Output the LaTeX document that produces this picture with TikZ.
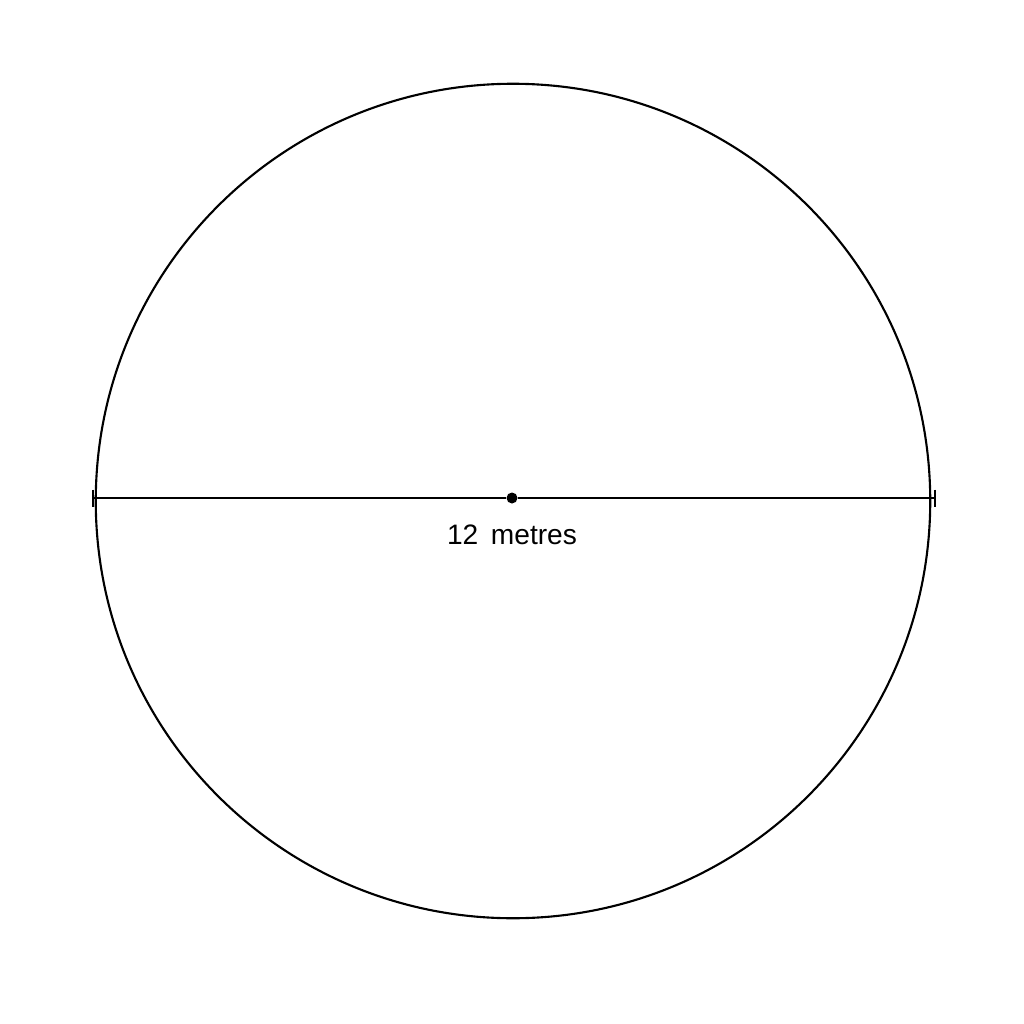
\documentclass[tikz,border=0pt]{standalone}
\usepackage{fontspec}
\setmainfont{Liberation Sans}

\tikzset{%
  every node/.style={
    inner sep=1pt
  },
  centre/.style={circle, fill=black, inner sep=0pt, minimum size=0.11cm},
  tick/.style={line width=0.6pt}
}

\begin{document}
\begin{tikzpicture}[x=0.01cm, y=-0.01cm]
        \useasboundingbox (0,0) rectangle (1024,1024);
        \node[draw, circle, line width=0.6pt, minimum size=8.34cm, inner sep=0pt] (c) at (513,501) {};
        \coordinate (l) at (93,498);
        \coordinate (r) at (935,498);
        \node[centre] (m) at (512,498) {};
        \node at (512,535) (t) {\fontsize{8}{9.6}\selectfont 12\hspace{0.45em}metres};
        \draw[line width=0.45pt] (l) -- (m);
        \draw[line width=0.45pt] (m) -- (r);
        \draw[tick] ([yshift=0.085cm]l) -- ([yshift=-0.085cm]l);
        \draw[tick] ([yshift=0.085cm]r) -- ([yshift=-0.085cm]r);
      \end{tikzpicture}
\end{document}
